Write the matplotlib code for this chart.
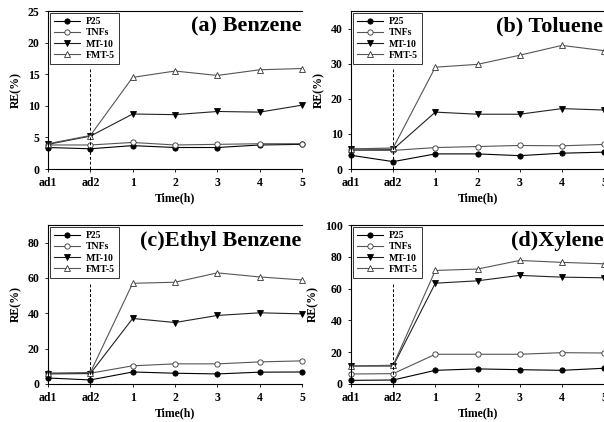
import matplotlib.pyplot as plt

# x categories
time_labels = ['ad1', 'ad2', '1', '2', '3', '4', '5']
series_names = ['P25', 'TNFs', 'MT-10', 'FMT-5']

# removal efficiency RE(%)
benzene_p25 = [3.4, 3.2, 3.7, 3.4, 3.4, 3.8, 3.9]
benzene_tnfs = [3.8, 3.8, 4.2, 3.8, 3.9, 4.0, 4.0]
benzene_mt10 = [3.9, 5.2, 8.7, 8.6, 9.1, 9.0, 10.1]
benzene_fmt5 = [4.0, 5.3, 14.5, 15.5, 14.8, 15.7, 15.9]

toluene_p25 = [3.9, 2.1, 4.3, 4.3, 3.8, 4.5, 4.8]
toluene_tnfs = [5.3, 5.3, 6.1, 6.4, 6.7, 6.6, 7.0]
toluene_mt10 = [5.7, 5.6, 16.2, 15.6, 15.6, 17.2, 16.8]
toluene_fmt5 = [5.7, 6.0, 29.0, 29.8, 32.4, 35.2, 33.7]

ethylbenzene_p25 = [3.4, 2.3, 6.8, 6.1, 5.7, 6.7, 6.8]
ethylbenzene_tnfs = [6.1, 6.1, 10.3, 11.4, 11.4, 12.5, 13.1]
ethylbenzene_mt10 = [5.7, 5.9, 37.1, 34.8, 38.8, 40.3, 39.7]
ethylbenzene_fmt5 = [6.1, 6.5, 57.0, 57.6, 62.9, 60.6, 58.9]

xylene_p25 = [2.3, 2.5, 8.6, 9.5, 9.0, 8.6, 9.9]
xylene_tnfs = [6.3, 6.5, 18.7, 18.7, 18.7, 19.7, 19.5]
xylene_mt10 = [11.3, 11.3, 63.4, 64.9, 68.3, 67.2, 66.8]
xylene_fmt5 = [11.3, 11.8, 71.4, 72.3, 77.7, 76.5, 75.6]

panel_titles = ['(a) Benzene', '(b) Toluene', '(c)Ethyl Benzene', '(d)Xylene']
y_limits = [25, 45, 90, 100]
y_steps = [5, 10, 20, 20]

panel_data = [
    [benzene_p25, benzene_tnfs, benzene_mt10, benzene_fmt5],
    [toluene_p25, toluene_tnfs, toluene_mt10, toluene_fmt5],
    [ethylbenzene_p25, ethylbenzene_tnfs, ethylbenzene_mt10, ethylbenzene_fmt5],
    [xylene_p25, xylene_tnfs, xylene_mt10, xylene_fmt5],
]

plt.rcParams['font.family'] = 'Liberation Serif'
plt.rcParams['font.weight'] = 'bold'

styles = [
    dict(color='black', marker='o', mfc='black', mec='black'),
    dict(color='#555555', marker='o', mfc='white', mec='#333333'),
    dict(color='#222222', marker='v', mfc='black', mec='black'),
    dict(color='#555555', marker='^', mfc='white', mec='#333333'),
]

W, H = 604, 422
boxes = [(48, 11, 302, 169), (351, 11, 604, 169),
         (48, 225, 302, 384), (351, 225, 604, 384)]

fig = plt.figure(figsize=(W / 100, H / 100), dpi=100)
x = list(range(len(time_labels)))

for i, (x0, y0, x1, y1) in enumerate(boxes):
    ax = fig.add_axes([x0 / W, 1 - y1 / H, (x1 - x0) / W, (y1 - y0) / H])
    for name, vals, st in zip(series_names, panel_data[i], styles):
        ax.plot(x, vals, lw=0.8, ms=3.8, mew=0.6, label=name, clip_on=False, **st)
    ax.axvline(1, ymin=0, ymax=0.63, color='black', ls='--', lw=0.7, dashes=(3, 2))
    ax.set_xlim(0, 6)
    ax.set_ylim(0, y_limits[i])
    ax.set_yticks(range(0, y_limits[i] + 1, y_steps[i]))
    ax.set_xticks(x)
    ax.set_xticklabels(time_labels)
    ax.tick_params(labelsize=8.5, length=2, width=0.6, pad=4)
    ax.spines['right'].set_visible(False)
    for s in ['left', 'top', 'bottom']:
        ax.spines[s].set_linewidth(0.8)
    ax.set_xlabel('Time(h)', fontsize=8.5, fontweight='bold', labelpad=2)
    ax.set_ylabel('RE(%)', fontsize=8.5, fontweight='bold', labelpad=4)
    ax.text(0.998, 0.965, panel_titles[i], transform=ax.transAxes, ha='right', va='top',
            fontsize=16, fontweight='bold')
    leg = ax.legend(loc='upper left', fontsize=7, handlelength=2.6, borderpad=0.45,
                    labelspacing=0.22, handletextpad=0.6, fancybox=False,
                    borderaxespad=0.2, bbox_to_anchor=(0.0, 1.0))
    leg.get_frame().set_edgecolor('black')
    leg.get_frame().set_linewidth(0.7)

fig.savefig('out.png', dpi=100)
